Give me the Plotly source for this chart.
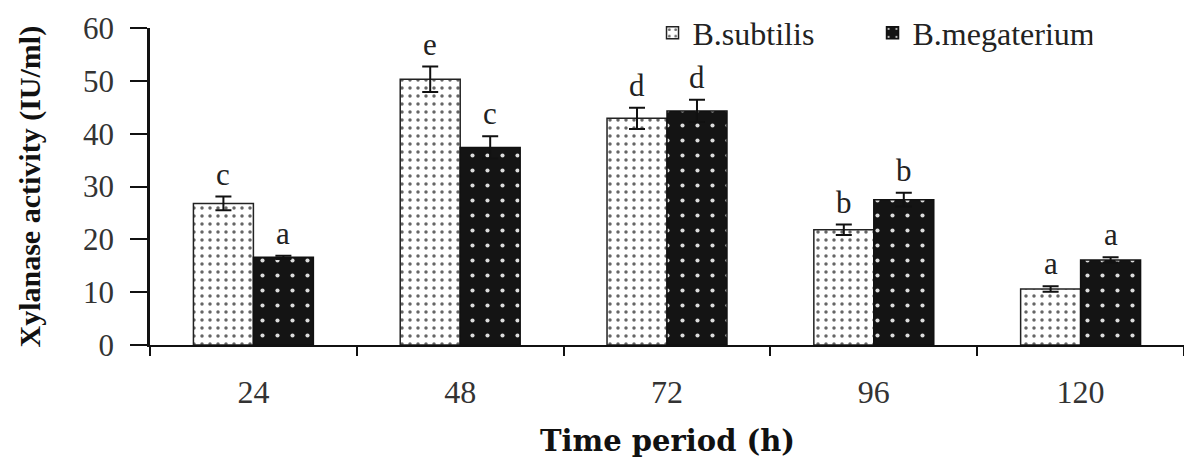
import plotly.graph_objects as go

categories = ["24", "48", "72", "96", "120"]
subtilis = [26.8, 50.3, 42.9, 21.8, 10.6]
subtilis_err = [1.3, 2.4, 2.0, 1.0, 0.5]
subtilis_letters = ["c", "e", "d", "b", "a"]
megaterium = [16.6, 37.4, 44.3, 27.5, 16.1]
megaterium_err = [0.3, 2.1, 2.1, 1.3, 0.5]
megaterium_letters = ["a", "c", "d", "b", "a"]

SERIF = "Liberation Serif"
BARGAP = 0.42
bw = (1 - BARGAP) / 2

fig = go.Figure()
fig.add_trace(go.Bar(
    name="B.subtilis", x=categories, y=subtilis,
    error_y=dict(type="data", array=subtilis_err, color="#111", thickness=2, width=8),
    marker=dict(color="white", line=dict(color="#222", width=1.5),
                pattern=dict(shape=".", bgcolor="white", fgcolor="#666",
                             size=8, solidity=0.15, fillmode="replace")),
))
fig.add_trace(go.Bar(
    name="B.megaterium", x=categories, y=megaterium,
    error_y=dict(type="data", array=megaterium_err, color="#111", thickness=2, width=8),
    marker=dict(color="#111", line=dict(color="#111", width=1.5),
                pattern=dict(shape=".", bgcolor="#141414", fgcolor="#dddddd",
                             size=15, solidity=0.06, fillmode="replace")),
))

annotations = []
for i, cat in enumerate(categories):
    for vals, errs, letters, off in ((subtilis, subtilis_err, subtilis_letters, -bw / 2),
                                     (megaterium, megaterium_err, megaterium_letters, bw / 2)):
        annotations.append(dict(
            x=i + off, y=vals[i] + errs[i], xref="x", yref="y",
            text=letters[i], showarrow=False, yanchor="bottom", yshift=3,
            font=dict(family=SERIF, size=31, color="#222"),
        ))

annotations.append(dict(
    text="<b>Xylanase activity (IU/ml)</b>", xref="paper", yref="paper",
    x=0, y=0.5, xanchor="center", yanchor="middle", xshift=-121, textangle=-90,
    showarrow=False, font=dict(family=SERIF, size=30, color="#111"),
))
annotations.append(dict(
    text="<b>Time period (h)</b>", xref="paper", yref="paper",
    x=0.5, y=0, xanchor="center", yanchor="middle", yshift=-96, showarrow=False,
    font=dict(family="DejaVu Serif", size=29, color="#111"),
))

fig.update_layout(
    width=1184, height=453,
    margin=dict(l=142, r=8, t=20, b=116, autoexpand=False),
    paper_bgcolor="white", plot_bgcolor="white",
    barmode="group", bargap=BARGAP, bargroupgap=0,
    showlegend=True,
    legend=dict(orientation="h", x=0.486, xanchor="left", y=0.984, yanchor="middle",
                font=dict(family=SERIF, size=32, color="#222"),
                itemwidth=30, entrywidth=175, traceorder="normal",
                bgcolor="rgba(0,0,0,0)"),
    annotations=annotations,
    font=dict(family=SERIF, color="#222"),
)
fig.update_xaxes(
    type="category", showline=True, linecolor="#111", linewidth=2,
    ticks="outside", tickson="boundaries", ticklen=9, tickwidth=2, tickcolor="#111",
    tickfont=dict(family=SERIF, size=32, color="#333"), ticklabelstandoff=18,
    showgrid=False, zeroline=False, automargin=False,
)
fig.update_yaxes(
    range=[0, 60], dtick=10, showline=True, linecolor="#111", linewidth=2.5,
    ticks="outside", ticklen=17, tickwidth=2, tickcolor="#111",
    tickfont=dict(family=SERIF, size=31, color="#333"), ticklabelstandoff=10,
    showgrid=False, zeroline=False, automargin=False,
)

fig.write_html("out.html")
